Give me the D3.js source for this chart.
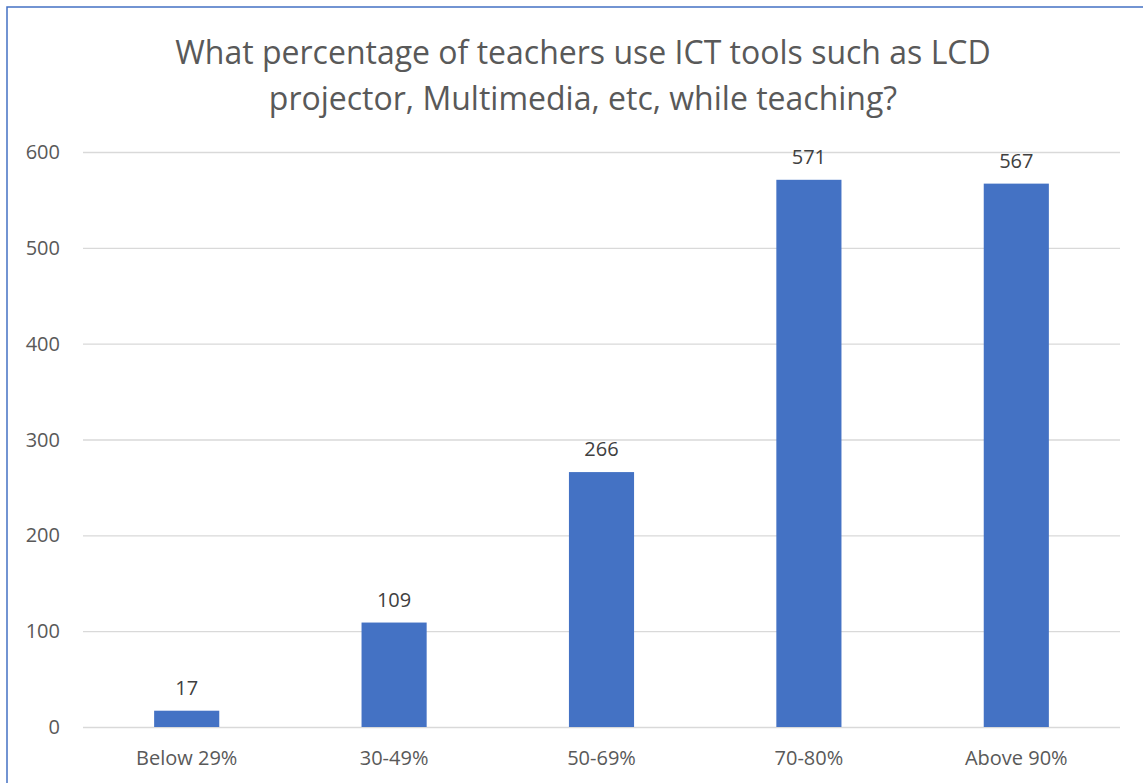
<!DOCTYPE html>
<html>
<head>
<meta charset="utf-8">
<script src="https://cdn.jsdelivr.net/npm/d3@7"></script>
<style>
  body { margin: 0; background: #fff; }
  text { font-family: "Open Sans", "Noto Sans", sans-serif; }
</style>
</head>
<body>
<div id="viz"></div>
<script>
const categories = ["Below 29%", "30-49%", "50-69%", "70-80%", "Above 90%"];
const counts = [17, 109, 266, 571, 567];
const yTicks = [0, 100, 200, 300, 400, 500, 600];
const titleLines = ["What percentage of teachers use ICT tools such as LCD",
                    "projector, Multimedia, etc, while teaching?"];

const W = 1143, H = 783;
const margin = {top: 152, right: 23, bottom: 56, left: 83},
    width = W - margin.left - margin.right,
    height = H - margin.top - margin.bottom;

const svg = d3.select("#viz")
    .append("svg")
        .attr("width", W)
        .attr("height", H);

// chart border (only left/top visible in the crop)
svg.append("rect")
    .attr("x", 7).attr("y", 7)
    .attr("width", W + 20).attr("height", H + 20)
    .attr("fill", "#fff")
    .attr("stroke", "#4472c4")
    .attr("stroke-width", 1.5);

svg.selectAll(".title")
    .data(titleLines)
    .enter()
    .append("text")
        .attr("x", 583)
        .attr("y", (d, i) => 64 + i * 46)
        .attr("text-anchor", "middle")
        .attr("fill", "#595959")
        .style("font-size", "32px")
        .text(d => d);

const g = svg.append("g")
    .attr("transform", `translate(${margin.left},${margin.top})`);

const x = d3.scaleBand()
    .range([0, width])
    .domain(categories)
    .paddingInner(0.686)
    .paddingOuter(0.343);

const y = d3.scaleLinear()
    .domain([0, 600])
    .range([height, 0]);

// gridlines
g.append("g")
    .call(d3.axisLeft(y).tickValues(yTicks).tickSize(-width).tickFormat(""))
    .call(a => a.select(".domain").remove())
    .selectAll("line")
        .attr("stroke", "#d9d9d9")
        .attr("stroke-width", 1.3);

// y labels
g.selectAll(".ylab")
    .data(yTicks)
    .enter()
    .append("text")
        .attr("x", -23)
        .attr("y", d => y(d))
        .attr("dy", "0.35em")
        .attr("text-anchor", "end")
        .attr("fill", "#595959")
        .style("font-size", "20px")
        .text(d => d);

// bars
g.selectAll(".bar")
    .data(counts)
    .enter()
    .append("rect")
        .attr("fill", "#4472c4")
        .attr("x", (d, i) => x(categories[i]))
        .attr("width", x.bandwidth())
        .attr("y", d => y(d))
        .attr("height", d => height - y(d));

// value labels
g.selectAll(".val")
    .data(counts)
    .enter()
    .append("text")
        .attr("x", (d, i) => x(categories[i]) + x.bandwidth() / 2)
        .attr("y", d => y(d) - 16)
        .attr("text-anchor", "middle")
        .attr("fill", "#404040")
        .style("font-size", "20px")
        .text(d => d);

// category labels
g.selectAll(".cat")
    .data(categories)
    .enter()
    .append("text")
        .attr("x", d => x(d) + x.bandwidth() / 2)
        .attr("y", height + 38)
        .attr("text-anchor", "middle")
        .attr("fill", "#595959")
        .style("font-size", "20px")
        .text(d => d);
</script>
</body>
</html>
